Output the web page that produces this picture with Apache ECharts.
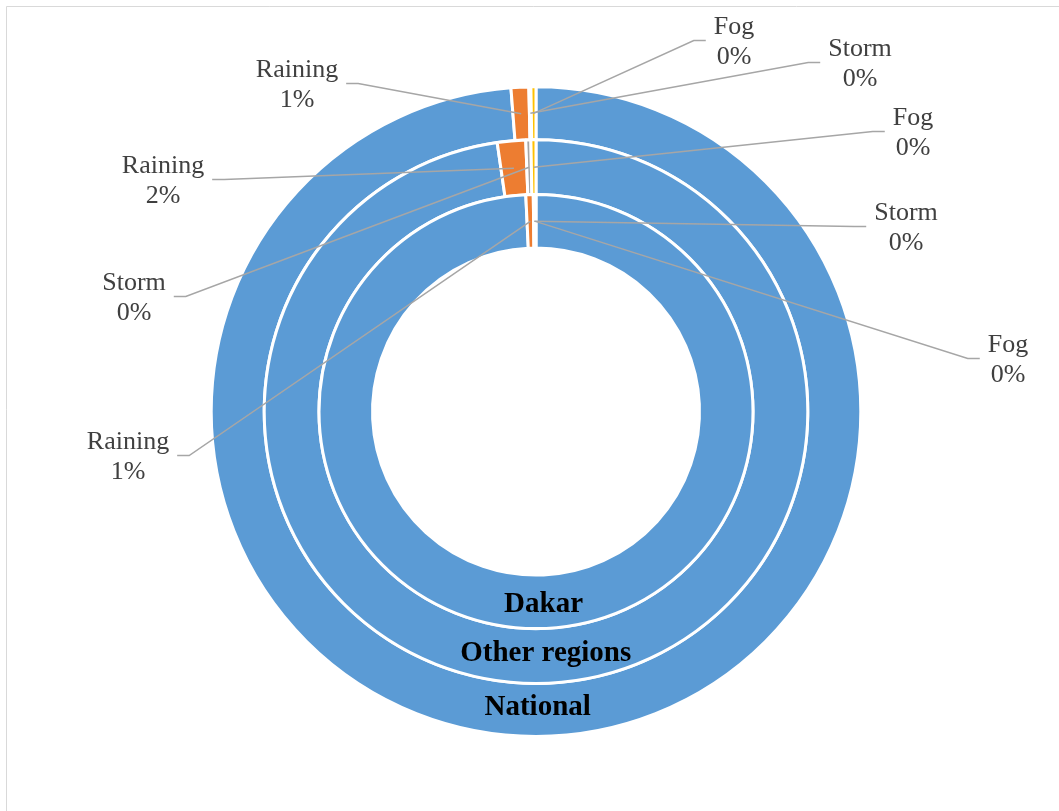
<!DOCTYPE html>
<html>
<head>
<meta charset="utf-8">
<script src="https://cdn.jsdelivr.net/npm/echarts@6/dist/echarts.min.js"></script>
<style>
  html, body { margin: 0; padding: 0; background: #ffffff; }
  #chart { width: 1059px; height: 811px; }
</style>
</head>
<body>
<div id="chart"></div>
<script>
// Share of days by weather condition, for three areas (percent)
const categories = ['Normal', 'Raining', 'Storm', 'Fog'];
const ringNames = ['National', 'Other regions', 'Dakar'];          // outer ring to inner ring
const nationalValues = [98.77, 0.88, 0.10, 0.25];
const otherRegionsValues = [97.72, 1.68, 0.30, 0.30];
const dakarValues = [99.25, 0.55, 0.10, 0.10];
const palette = ['#5B9BD5', '#ED7D31', '#A5A5A5', '#FFC000'];

// Geometry of the rings
const CX = 536, CY = 411.6;
const ringRadii = [[271.8, 324.8], [217, 271.8], [163.5, 217]];

// Callout placement per ring, for Raining / Storm / Fog: [x, y, side] (side -1 = left of the ring)
const calloutPlaces = [
  [[297, 85, -1], [860, 64, 1], [734, 42, 1]],
  [[163, 181, -1], [134, 298, -1], [913, 133, 1]],
  [[128, 457, -1], [906, 228, 1], [1008, 360, 1]]
];
// small shift of the ring-name labels from the slice centroid
const nameNudge = [[-10, -5], [-8, -5], [3, 0]];

const FONT = '"Liberation Serif", "Times New Roman", serif';
const measureCtx = document.createElement('canvas').getContext('2d');
function textWidth(s) {
  measureCtx.font = '26px "Liberation Serif"';
  return measureCtx.measureText(s).width;
}

// Filled ring, no text
function ringSeries(i, values) {
  return {
    type: 'pie',
    name: ringNames[i],
    center: [CX, CY],
    radius: ringRadii[i],
    startAngle: 90,
    clockwise: true,
    silent: true,
    z: 2,
    itemStyle: { borderColor: '#ffffff', borderWidth: 3 },
    label: { show: false },
    labelLine: { show: false },
    data: values.map((v, k) => ({ name: categories[k], value: v }))
  };
}

// Same ring, transparent, drawn on top so callouts and their leader lines sit above every ring
function calloutSeries(i, values) {
  const rMid = (ringRadii[i][0] + ringRadii[i][1]) / 2;
  return {
    type: 'pie',
    name: ringNames[i],
    center: [CX, CY],
    radius: ringRadii[i],
    startAngle: 90,
    clockwise: true,
    avoidLabelOverlap: false,
    silent: true,
    z: 5,
    itemStyle: { color: 'rgba(0,0,0,0)', borderWidth: 0 },
    label: {
      show: true,
      position: 'outside',
      formatter: p => p.name + '\n' + Math.round(p.percent) + '%',
      fontFamily: FONT,
      fontSize: 26,
      lineHeight: 30,
      color: '#404040',
      width: 130
    },
    labelLine: {
      show: true,
      length: 10,
      length2: 10,
      smooth: false,
      lineStyle: { color: '#A6A6A6', width: 1.5 }
    },
    labelLayout: function (p) {
      if (p.dataIndex === 0) {
        const r = p.labelRect;
        return {
          x: r.x + r.width / 2 + nameNudge[i][0],
          y: r.y + r.height / 2 + nameNudge[i][1],
          align: 'center', verticalAlign: 'middle'
        };
      }
      const place = calloutPlaces[i][p.dataIndex - 1];
      const out = { x: place[0], y: place[1], align: 'center', verticalAlign: 'middle' };
      const pts = p.labelLinePoints;
      if (pts && pts.length) {
        const vx = pts[0][0] - CX, vy = pts[0][1] - CY;
        const len = Math.hypot(vx, vy) || 1;
        const sx = CX + vx / len * rMid, sy = CY + vy / len * rMid;
        const half = textWidth(categories[p.dataIndex]) / 2;
        const ex = place[0] - place[2] * (half + 8);
        const ey = place[1] - 1.5;
        const kx = ex - place[2] * 12;
        out.labelLinePoints = [[sx, sy], [kx, ey], [ex, ey]];
      }
      return out;
    },
    data: values.map((v, k) => {
      if (k === 0) {
        return {
          name: categories[k],
          value: v,
          label: {
            position: 'inside',
            formatter: '{a}',
            fontFamily: FONT,
            fontWeight: 'bold',
            fontSize: 29,
            color: '#000000',
            width: 260,
            align: 'center'
          },
          labelLine: { show: false }
        };
      }
      return { name: categories[k], value: v };
    })
  };
}

const areaValues = [nationalValues, otherRegionsValues, dakarValues];

const chart = echarts.init(document.getElementById('chart'), null, { renderer: 'canvas' });
chart.setOption({
  animation: false,
  backgroundColor: '#ffffff',
  color: palette,
  graphic: [{
    type: 'rect',
    silent: true,
    shape: { x: 6.5, y: 6.5, width: 1200, height: 1000 },
    style: { fill: 'none', stroke: '#D9D9D9', lineWidth: 1 }
  }],
  series: areaValues.map((v, i) => ringSeries(i, v))
    .concat(areaValues.map((v, i) => calloutSeries(i, v)))
});
</script>
</body>
</html>
